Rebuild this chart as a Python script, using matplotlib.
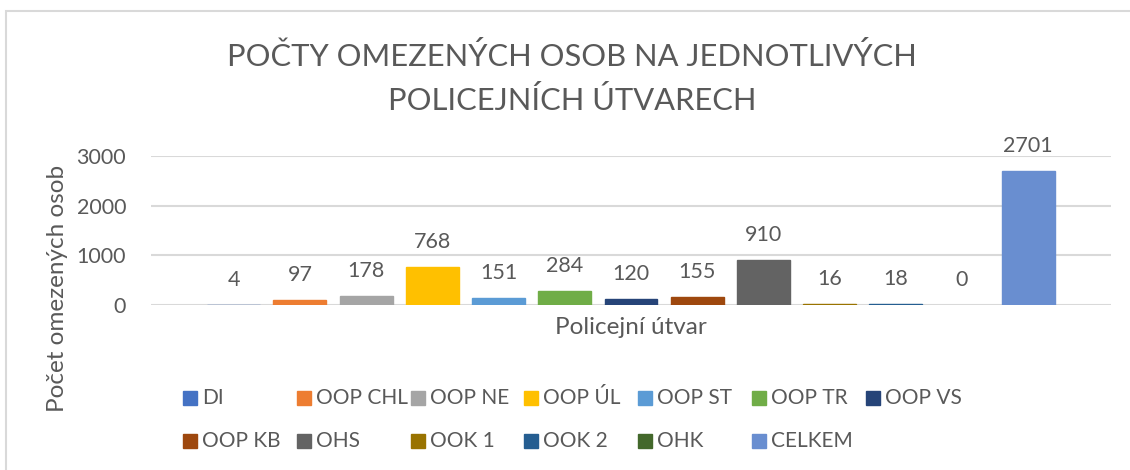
import matplotlib.pyplot as plt
from matplotlib.patches import Rectangle

# ── Data ──────────────────────────────────────────────────────────────────────
units = ["DI", "OOP CHL", "OOP NE", "OOP ÚL", "OOP ST", "OOP TR", "OOP VS",
         "OOP KB", "OHS", "OOK 1", "OOK 2", "OHK", "CELKEM"]
counts = [4, 97, 178, 768, 151, 284, 120, 155, 910, 16, 18, 0, 2701]
colours = ["#4472C4", "#ED7D31", "#A5A5A5", "#FFC000", "#5B9BD5", "#70AD47",
           "#264478", "#9E480E", "#636363", "#997300", "#255E91", "#43682B",
           "#698ED0"]
y_ticks = [0, 1000, 2000, 3000]

TXT = "#595959"
GRID = "#D9D9D9"
FONT = "Lato"
plt.rcParams["font.family"] = [FONT, "DejaVu Sans"]

W, H = 1130, 470
fig = plt.figure(figsize=(W / 100, H / 100), dpi=100)

def fx(px):
    return px / W

def fy(py):
    return 1 - py / H

# chart border (only top and left edges are visible in the crop)
fig.patches.append(Rectangle((fx(6), -0.5), 2.0, fy(11) + 0.5,
                             transform=fig.transFigure, fill=False,
                             edgecolor=GRID, lw=1.5))

ax = fig.add_axes([fx(151), fy(305), fx(1111) - fx(151), fy(156) - fy(305)])
xs = list(range(len(units)))
# thin edge so the tiny bars (4, 16, 18) still show as a line, like Excel
edges = [c if v > 0 else "none" for c, v in zip(colours, counts)]
ax.bar(xs, counts, width=0.8, color=colours, edgecolor=edges, lw=1.0,
       zorder=3)

for x, v in zip(xs, counts):
    ax.annotate(str(v), (x, v), xytext=(0, 18), textcoords="offset points",
                ha="center", va="center", fontsize=15.5, color=TXT,
                annotation_clip=False)

ax.set_xlim(-1.25, 13.25)
ax.set_ylim(0, 3000)
ax.set_yticks(y_ticks)
ax.set_xticks([])
ax.tick_params(axis="y", length=0, pad=18, labelsize=15.5, labelcolor=TXT)
ax.grid(axis="y", color=GRID, lw=1.5, zorder=0)
for s in ax.spines.values():
    s.set_visible(False)
ax.axhline(0, color=GRID, lw=2, zorder=1)

# title
fig.text(fx(572), fy(57), "POČTY OMEZENÝCH OSOB NA JEDNOTLIVÝCH",
         ha="center", va="center", fontsize=22.2, color=TXT)
fig.text(fx(572), fy(101), "POLICEJNÍCH ÚTVARECH",
         ha="center", va="center", fontsize=22.2, color=TXT)

# axis titles
fig.text(fx(631), fy(327), "Policejní útvar", ha="center", va="center",
         fontsize=17.5, color=TXT)
fig.text(fx(58), fy(288), "Počet omezených osob", ha="center", va="center",
         rotation=90, fontsize=17.5, color=TXT)

# legend, laid out like the Excel one: 7 columns, row-major
col_x = [183, 297, 411, 524, 638, 752, 866]
row_y = [398, 441]
sq = 14
for i, (name, c) in enumerate(zip(units, colours)):
    r, k = divmod(i, 7)
    x0, yc = col_x[k], row_y[r]
    fig.patches.append(Rectangle((fx(x0), fy(yc + sq / 2)), fx(sq), sq / H,
                                 transform=fig.transFigure, color=c))
    fig.text(fx(x0 + 19), fy(yc), name, ha="left", va="center",
             fontsize=15, color=TXT)

fig.savefig("out.png", dpi=100)
